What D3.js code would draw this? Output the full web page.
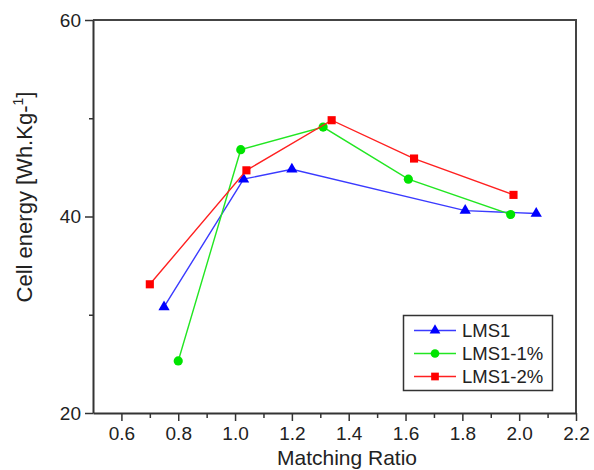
<!DOCTYPE html>
<html>
<head>
<meta charset="utf-8">
<script src="https://cdn.jsdelivr.net/npm/d3@7"></script>
<style>
  html, body { margin: 0; padding: 0; background: #fff; }
  svg { display: block; font-family: "Liberation Sans", Arial, Helvetica, sans-serif; }
</style>
</head>
<body>
<svg id="chart" width="594" height="470"></svg>
<script>
// Series: matching ratio (x) vs cell energy in Wh/kg (y)
const lms1X = [0.75, 1.03, 1.20, 1.81, 2.06];
const lms1Y = [30.8, 43.8, 44.8, 40.6, 40.3];

const lms1p1X = [0.80, 1.02, 1.31, 1.61, 1.97];
const lms1p1Y = [25.3, 46.8, 49.1, 43.8, 40.2];

const lms1p2X = [0.70, 1.04, 1.34, 1.63, 1.98];
const lms1p2Y = [33.1, 44.7, 49.8, 45.9, 42.2];

const seriesNames = ["LMS1", "LMS1-1%", "LMS1-2%"];

const xMajorTicks = [0.6, 0.8, 1.0, 1.2, 1.4, 1.6, 1.8, 2.0, 2.2];
const xMinorTicks = [0.7, 0.9, 1.1, 1.3, 1.5, 1.7, 1.9, 2.1];
const yMajorTicks = [20, 40, 60];
const yMinorTicks = [30, 50];

const margin = { left: 93, top: 20, right: 576, bottom: 413 };
const svg = d3.select("#chart");

const x = d3.scaleLinear().domain([0.5, 2.2]).range([margin.left, margin.right]);
const y = d3.scaleLinear().domain([20, 60]).range([margin.bottom, margin.top]);

const axisColor = "#333";

// Frame: top and right edges
svg.append("path")
  .attr("d", `M${margin.left},${margin.top}H${margin.right}V${margin.bottom}`)
  .attr("fill", "none").attr("stroke", "#444").attr("stroke-width", 2);

// X axis: minor then major ticks
svg.append("g").attr("transform", `translate(0,${margin.bottom})`)
  .call(d3.axisBottom(x).tickValues(xMinorTicks).tickSize(5).tickFormat(""))
  .call(g => g.select(".domain").remove())
  .call(g => g.selectAll("line").attr("stroke", axisColor).attr("stroke-width", 1.5));

const xAxis = svg.append("g").attr("transform", `translate(0,${margin.bottom})`)
  .call(d3.axisBottom(x).tickValues(xMajorTicks).tickSize(8).tickSizeOuter(0).tickPadding(6)
    .tickFormat(d3.format(".1f")));
xAxis.select(".domain").attr("stroke", axisColor).attr("stroke-width", 2);
xAxis.selectAll("line").attr("stroke", axisColor).attr("stroke-width", 1.5);
xAxis.selectAll("text").attr("font-size", 19).attr("fill", "#222")
  .attr("font-family", "'Liberation Sans', Arial, sans-serif");

// Y axis
svg.append("g").attr("transform", `translate(${margin.left},0)`)
  .call(d3.axisLeft(y).tickValues(yMinorTicks).tickSize(4).tickFormat(""))
  .call(g => g.select(".domain").remove())
  .call(g => g.selectAll("line").attr("stroke", axisColor).attr("stroke-width", 1.5));

const yAxis = svg.append("g").attr("transform", `translate(${margin.left},0)`)
  .call(d3.axisLeft(y).tickValues(yMajorTicks).tickSize(8).tickSizeOuter(0).tickPadding(4)
    .tickFormat(d3.format("d")));
yAxis.select(".domain").attr("stroke", axisColor).attr("stroke-width", 2);
yAxis.selectAll("line").attr("stroke", axisColor).attr("stroke-width", 1.5);
yAxis.selectAll("text").attr("font-size", 19).attr("fill", "#222")
  .attr("font-family", "'Liberation Sans', Arial, sans-serif");

// Axis titles
svg.append("text")
  .attr("x", 347).attr("y", 465)
  .attr("text-anchor", "middle").attr("font-size", 21).attr("fill", "#222")
  .text("Matching Ratio");

const yTitle = svg.append("text")
  .attr("transform", "translate(32,197) rotate(-90)")
  .attr("text-anchor", "middle").attr("font-size", 22).attr("fill", "#222");
yTitle.append("tspan").text("Cell energy [Wh.Kg-");
yTitle.append("tspan").attr("font-size", 14).attr("dy", -9).text("1");
yTitle.append("tspan").attr("dy", 9).text("]");

// Series drawing
const series = [
  { name: seriesNames[0], xs: lms1X, ys: lms1Y, line: "#3a3aff", fill: "#0000ff", shape: d3.symbolTriangle, size: 55 },
  { name: seriesNames[1], xs: lms1p1X, ys: lms1p1Y, line: "#22e622", fill: "#00e400", shape: d3.symbolCircle, size: 66 },
  { name: seriesNames[2], xs: lms1p2X, ys: lms1p2Y, line: "#ff2020", fill: "#ff0000", shape: d3.symbolSquare, size: 66 }
];

const line = d3.line().x(d => x(d[0])).y(d => y(d[1]));

series.forEach(s => {
  const pts = s.xs.map((v, i) => [v, s.ys[i]]);
  svg.append("path")
    .datum(pts)
    .attr("d", line)
    .attr("fill", "none").attr("stroke", s.line).attr("stroke-width", 1.4);
  svg.append("g").selectAll("path")
    .data(pts)
    .join("path")
    .attr("transform", d => `translate(${x(d[0])},${y(d[1])})`)
    .attr("d", d3.symbol().type(s.shape).size(s.size))
    .attr("fill", s.fill);
});

// Legend
const legend = svg.append("g");
legend.append("rect")
  .attr("x", 403.5).attr("y", 315.5).attr("width", 149).attr("height", 75)
  .attr("fill", "#fff").attr("stroke", "#333").attr("stroke-width", 1.5);

series.forEach((s, i) => {
  const cy = 330.5 + i * 23;
  legend.append("line")
    .attr("x1", 414).attr("x2", 456).attr("y1", cy).attr("y2", cy)
    .attr("stroke", s.line).attr("stroke-width", 1.3);
  legend.append("path")
    .attr("transform", `translate(435,${cy})`)
    .attr("d", d3.symbol().type(s.shape).size(s.size * 0.9))
    .attr("fill", s.fill);
  legend.append("text")
    .attr("x", 462).attr("y", cy + 6.5)
    .attr("font-size", 18.5).attr("fill", "#222")
    .text(s.name);
});
</script>
</body>
</html>
